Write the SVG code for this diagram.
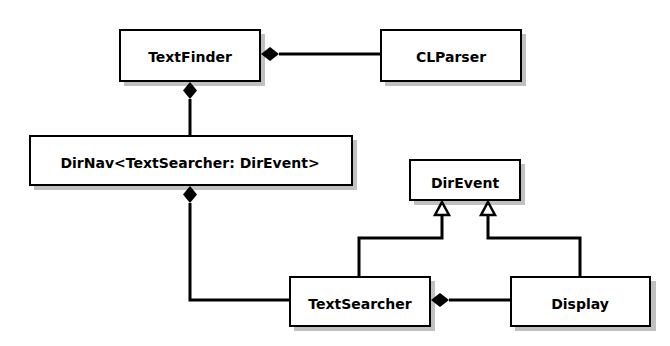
<svg xmlns="http://www.w3.org/2000/svg" width="670" height="346" viewBox="0 0 670 346">
  <style>
    .shadow { fill: #c0c0c0; }
    .box { fill: #ffffff; stroke: #000000; stroke-width: 2; }
    .label { font-family: "DejaVu Sans", Verdana, sans-serif; font-weight: bold; font-size: 14px; text-anchor: middle; fill: #000000; }
    .edge { fill: none; stroke: #000000; stroke-width: 3; }
    .diamond { fill: #000000; stroke: none; }
    .tri { fill: #ffffff; stroke: #000000; stroke-width: 2.5; stroke-linejoin: miter; }
  </style>
  <rect width="670" height="346" fill="#ffffff"/>

  <g id="TextFinder">
    <rect class="shadow" x="124" y="34" width="141" height="52"/>
    <rect class="box" x="120" y="30" width="140" height="51"/>
    <text class="label" x="190" y="62">TextFinder</text>
  </g>

  <g id="CLParser">
    <rect class="shadow" x="385" y="34" width="141" height="52"/>
    <rect class="box" x="381" y="30" width="140" height="51"/>
    <text class="label" x="451" y="62">CLParser</text>
  </g>

  <g id="DirNav">
    <rect class="shadow" x="34" y="140" width="323" height="50"/>
    <rect class="box" x="30" y="136" width="322" height="49"/>
    <text class="label" x="190" y="168">DirNav&lt;TextSearcher: DirEvent&gt;</text>
  </g>

  <g id="DirEvent">
    <rect class="shadow" x="414" y="164" width="111" height="41"/>
    <rect class="box" x="410" y="160" width="110" height="40"/>
    <text class="label" x="465" y="188">DirEvent</text>
  </g>

  <g id="TextSearcher">
    <rect class="shadow" x="294" y="281" width="141" height="50"/>
    <rect class="box" x="290" y="277" width="140" height="49"/>
    <text class="label" x="360" y="309">TextSearcher</text>
  </g>

  <g id="Display">
    <rect class="shadow" x="515" y="281" width="141" height="50"/>
    <rect class="box" x="511" y="277" width="139" height="49"/>
    <text class="label" x="580" y="309">Display</text>
  </g>

  <g id="connectors">
    <!-- composition: CLParser into TextFinder -->
    <line class="edge" x1="279" y1="54" x2="380" y2="54"/>
    <polygon class="diamond" points="261,54 270,47 279,54 270,61"/>
    <!-- composition: DirNav into TextFinder -->
    <line class="edge" x1="190" y1="99" x2="190" y2="135"/>
    <polygon class="diamond" points="190,82 197,90.5 190,99 183,90.5"/>
    <!-- composition: TextSearcher into DirNav -->
    <polyline class="edge" points="190,203 190,300 289,300"/>
    <polygon class="diamond" points="190,186 197,194.5 190,203 183,194.5"/>
    <!-- composition: Display into TextSearcher -->
    <line class="edge" x1="449" y1="300" x2="510" y2="300"/>
    <polygon class="diamond" points="431,300 440,293 449,300 440,307"/>
    <!-- generalization: TextSearcher to DirEvent -->
    <polyline class="edge" points="359,276 359,238 442,238 442,215"/>
    <polygon class="tri" points="442,202 449,215 435,215"/>
    <!-- generalization: Display to DirEvent -->
    <polyline class="edge" points="580,276 580,238 488,238 488,215"/>
    <polygon class="tri" points="488,202 495,215 481,215"/>
  </g>
</svg>
